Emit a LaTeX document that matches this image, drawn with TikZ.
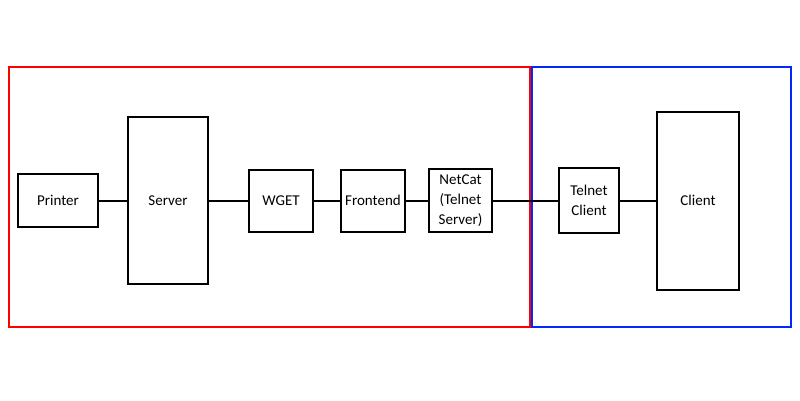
\documentclass[tikz,border=0pt]{standalone}
\usepackage{fontspec}
\setmainfont{Carlito}
\usepackage{tikz}

\begin{document}
\begin{tikzpicture}[x=1pt,y=-1pt,line width=2pt,
  blk/.style={rectangle,draw=black,inner sep=0pt,align=center,
    font=\fontsize{15}{20}\selectfont}]
  \useasboundingbox (0,0) rectangle (800,400);
  % zones
  \draw[red!100] (9,67) rectangle (530,327);
  \draw[color={rgb,255:red,0;green,40;blue,255}] (532,67) rectangle (791,327);
  % blocks
  \node[blk,minimum width=80,minimum height=53] (printer) at (58,200.5) {Printer};
  \node[blk,minimum width=80,minimum height=167] (server) at (168,200.5) {Server};
  \node[blk,minimum width=64,minimum height=62] (wget) at (281,200.5) {WGET};
  \node[blk,minimum width=64,minimum height=62] (front) at (373,200.5) {Frontend};
  \node[blk,minimum width=63,minimum height=63] (netcat) at (460.5,200.5) {NetCat\\(Telnet\\Server)};
  \node[blk,minimum width=60,minimum height=65] (tclient) at (589,200.5) {Telnet\\Client};
  \node[blk,minimum width=82,minimum height=178] (client) at (698,200.5) {Client};
  % links
  \draw (printer) -- (server);
  \draw (server) -- (wget);
  \draw (wget) -- (front);
  \draw (front) -- (netcat);
  \draw (netcat) -- (tclient);
  \draw (tclient) -- (client);
\end{tikzpicture}
\end{document}
